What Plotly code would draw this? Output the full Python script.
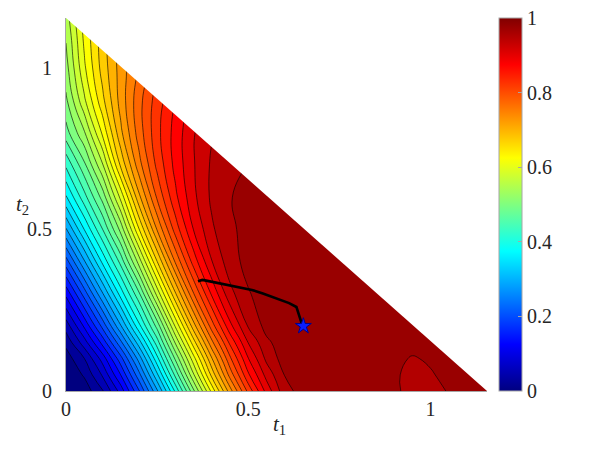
import plotly.graph_objects as go

# grid (t1 across, t2 up); None = outside the triangle
T1 = [0, 0.05, 0.1, 0.15, 0.2, 0.25, 0.3, 0.35, 0.4, 0.45, 0.5, 0.55, 0.6,
      0.65, 0.7, 0.75, 0.8, 0.85, 0.9, 0.95, 1.0, 1.05, 1.1, 1.15, 1.2]
T2 = [0, 0.05, 0.1, 0.15, 0.2, 0.3, 0.4, 0.5, 0.6, 0.7, 0.8, 0.9, 1.0, 1.1, 1.2]

Z_ROWS = [
    [0, 0.011, 0.047, 0.11, 0.197, 0.296, 0.405, 0.52, 0.633, 0.739, 0.833, 0.909, 0.966,
     0.985, 0.991, 0.993, 0.991, 0.986, 0.979, 0.968, 0.965, 0.977, 0.983, 0.986, 0.987],
    [0.003, 0.028, 0.078, 0.15, 0.241, 0.345, 0.457, 0.572, 0.683, 0.785, 0.871, 0.934, 0.976,
     0.987, 0.992, 0.994, 0.992, 0.987, 0.978, 0.969, 0.973, 0.981, 0.985, 0.987, 0.988],
    [0.012, 0.049, 0.11, 0.19, 0.285, 0.392, 0.504, 0.615, 0.723, 0.82, 0.899, 0.956, 0.987,
     0.991, 0.994, 0.995, 0.993, 0.988, 0.981, 0.973, 0.978, 0.984, 0.987, 0.988, 0.989],
    [0.032, 0.088, 0.158, 0.243, 0.338, 0.438, 0.553, 0.664, 0.768, 0.856, 0.926, 0.97, 0.988,
     0.992, 0.994, 0.995, 0.994, 0.99, 0.985, 0.984, 0.985, 0.987, 0.988, 0.989],
    [0.06, 0.128, 0.206, 0.296, 0.391, 0.483, 0.602, 0.713, 0.812, 0.892, 0.952, 0.983, 0.99,
     0.996, 0.996, 0.995, 0.994, 0.991, 0.988, 0.986, 0.986, 0.987, 0.988],
    [0.131, 0.21, 0.296, 0.385, 0.469, 0.583, 0.696, 0.798, 0.879, 0.942, 0.973, 0.986, 0.991,
     0.994, 0.995, 0.994, 0.992, 0.99, 0.989, 0.988, 0.988],
    [0.213, 0.296, 0.38, 0.458, 0.56, 0.674, 0.778, 0.861, 0.924, 0.965, 0.983, 0.99, 0.993,
     0.994, 0.994, 0.993, 0.992, 0.991, 0.99],
    [0.297, 0.375, 0.449, 0.533, 0.648, 0.752, 0.836, 0.901, 0.946, 0.971, 0.982, 0.988, 0.991,
     0.992, 0.992, 0.991, 0.99],
    [0.372, 0.44, 0.509, 0.607, 0.718, 0.804, 0.869, 0.919, 0.955, 0.974, 0.982, 0.985, 0.986,
     0.987, 0.987],
    [0.43, 0.494, 0.572, 0.68, 0.765, 0.832, 0.883, 0.923, 0.954, 0.968, 0.976, 0.981, 0.984],
    [0.49, 0.547, 0.63, 0.719, 0.787, 0.842, 0.885, 0.923, 0.948, 0.962, 0.97],
    [0.52, 0.595, 0.668, 0.735, 0.791, 0.837, 0.875, 0.91, 0.935],
    [0.54, 0.62, 0.685, 0.736, 0.78, 0.82, 0.855],
    [0.553, 0.631, 0.69, 0.74, 0.785],
    [0.57, 0.64, 0.7],
]

# optimiser trajectory and its end point
PATH_T1 = [0.362, 0.374, 0.388, 0.41, 0.44, 0.475, 0.51, 0.54, 0.566, 0.594, 0.612,
           0.632, 0.638, 0.642, 0.648]
PATH_T2 = [0.340, 0.344, 0.341, 0.336, 0.329, 0.322, 0.313, 0.302, 0.292, 0.281, 0.272,
           0.26, 0.24, 0.22, 0.204]
STAR_T1, STAR_T2 = 0.651, 0.201

CBAR_TICKS = [0, 0.2, 0.4, 0.6, 0.8, 1]
CBAR_LABELS = ["0", "0.2", "0.4", "0.6", "0.8", "1"]
AX_TICKS = [0, 0.5, 1]
AX_LABELS = ["0", "0.5", "1"]

T_MAX = 1.1547  # t1 + t2 <= 2/sqrt(3)
LEVEL_STEP = 0.025

# MATLAB jet
JET = [(0, (0, 0, 0.5)), (0.125, (0, 0, 1)), (0.375, (0, 1, 1)),
       (0.625, (1, 1, 0)), (0.875, (1, 0, 0)), (1, (0.5, 0, 0))]


def rgb(c):
    return "rgb(%d,%d,%d)" % tuple(round(255 * v) for v in c)


def jet_at(v):
    for (p0, c0), (p1, c1) in zip(JET, JET[1:]):
        if v <= p1:
            f = (v - p0) / (p1 - p0)
            return tuple(a + f * (b - a) for a, b in zip(c0, c1))
    return JET[-1][1]


jet_scale = [[p, rgb(c)] for p, c in JET]
# plotly paints a band by its mid value; squeeze jet so each band gets jet(lower level)
top = 1 - LEVEL_STEP
fill_scale = [[p / top, rgb(c)] for p, c in JET if p <= top] + [[1, rgb(jet_at(top))]]

ncol = len(T1)
Z = [row + [None] * (ncol - len(row)) for row in Z_ROWS]

FONT = "Liberation Serif"
INK = "#262626"

fig = go.Figure()
fig.add_trace(go.Contour(
    x=T1, y=T2, z=Z, connectgaps=True, autocontour=False,
    contours=dict(start=LEVEL_STEP, end=1 - LEVEL_STEP, size=LEVEL_STEP, coloring="fill",
                  showlines=True),
    line=dict(color="black", width=0.6, smoothing=1.3),
    colorscale=fill_scale, showscale=False, hoverinfo="skip"))
fig.add_trace(go.Scatter(x=PATH_T1, y=PATH_T2, mode="lines",
                         line=dict(color="black", width=2.6), hoverinfo="skip"))
fig.add_trace(go.Scatter(x=[STAR_T1], y=[STAR_T2], mode="markers",
                         marker=dict(symbol="star", size=12, color="#0a1eff",
                                     line=dict(color="#00008b", width=1)), hoverinfo="skip"))
# colour bar only (continuous jet like MATLAB)
fig.add_trace(go.Scatter(
    x=[None], y=[None], mode="markers", hoverinfo="skip",
    marker=dict(color=[0], cmin=0, cmax=1, colorscale=jet_scale, showscale=True,
                colorbar=dict(x=1.0285, xanchor="left", y=0.5, yanchor="middle", len=1,
                              xpad=0, ypad=0, thickness=23, outlinewidth=1,
                              outlinecolor="#a6a6a6", ticklabeloverflow="allow",
                              tickvals=CBAR_TICKS, ticktext=CBAR_LABELS, ticks="inside",
                              ticklen=4, tickcolor="#a6a6a6",
                              tickfont=dict(family=FONT, size=20, color=INK)))))

# blank out the part of the square outside the triangle
fig.add_shape(type="path", xref="x", yref="y", layer="above",
              path=f"M 0 {T_MAX} L {T_MAX} 0 L {T_MAX} {T_MAX} Z",
              fillcolor="white", line=dict(width=0))

axis = dict(range=[0, T_MAX], showgrid=False, zeroline=False, showline=True,
            linecolor="#a6a6a6", linewidth=1, ticks="", tickvals=AX_TICKS, ticktext=AX_LABELS,
            tickfont=dict(family=FONT, size=20, color=INK))
fig.update_xaxes(**axis, ticklabelstandoff=0)
fig.update_yaxes(**axis, ticklabelstandoff=9)

fig.add_annotation(text="<i>t</i><sub>1</sub>", xref="paper", yref="paper", x=0.508, y=-0.091,
                   xanchor="center", yanchor="middle", showarrow=False,
                   font=dict(family=FONT, size=21, color=INK))
fig.add_annotation(text="<i>t</i><sub>2</sub>", xref="paper", yref="paper", x=-0.1045, y=0.5,
                   xanchor="center", yanchor="middle", showarrow=False,
                   font=dict(family=FONT, size=21, color=INK))

# page body adds 8px, so the figure is 8px smaller with the plot box kept in place
fig.update_layout(width=590, height=447, margin=dict(l=58, r=111, t=10, b=64),
                  plot_bgcolor="white", paper_bgcolor="white", showlegend=False)
fig.write_html("out.html")
